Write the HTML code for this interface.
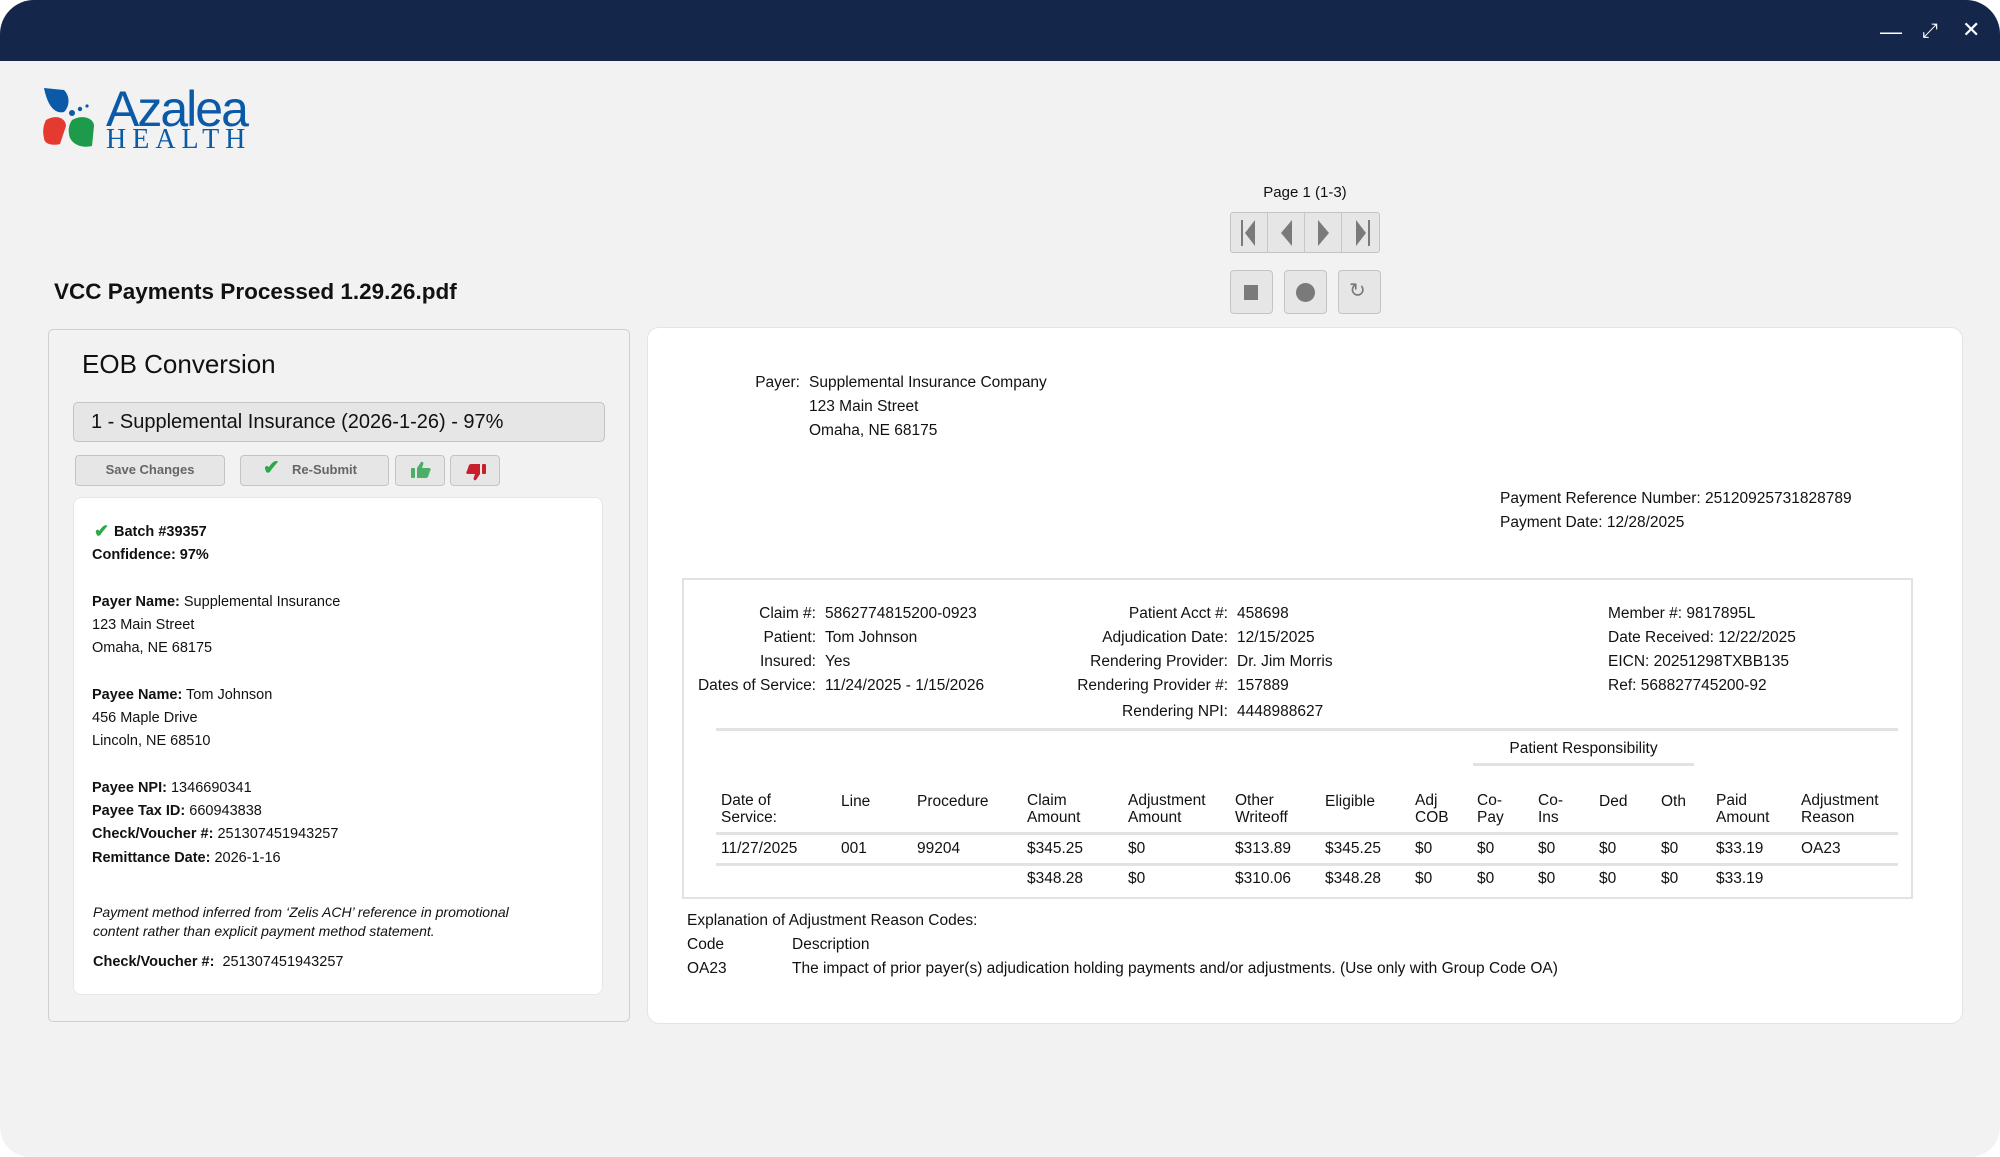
<!DOCTYPE html>
<html><head><meta charset="utf-8">
<style>
*{margin:0;padding:0;box-sizing:border-box}
body{width:2000px;height:1157px;background:#fff;position:relative;overflow:hidden;font-family:"Liberation Sans",sans-serif;color:#111}
.win{position:absolute;left:0;top:0;width:2000px;height:1157px;background:#f2f2f2;border-radius:34px 34px 30px 30px;overflow:hidden}
.bar{position:absolute;left:0;top:0;width:2000px;height:61px;background:#14264a}
.t{position:absolute;white-space:nowrap;line-height:20px}
.r{text-align:right}
.d{font-size:15.5px}
.l{font-size:14.5px}
b{font-weight:bold}
.btn{position:absolute;background:#e6e6e6;border:1.5px solid #c4c4c4;border-radius:4px}
.hl{position:absolute;height:3px;background:#e2e2e2}
</style></head><body>
<div class="win">
<div class="bar"></div>
<div class="t" style="left:1880px;top:22px;color:#fff;font-size:22px">&#8212;</div>
<div class="t" style="left:1922px;top:21px;color:#fff;font-size:20px">&#10530;</div>
<div class="t" style="left:1962px;top:20px;color:#fff;font-size:22px">&#10005;</div>

<!-- logo -->
<svg style="position:absolute;left:42px;top:86px" width="70" height="66" viewBox="0 0 70 66">
<path d="M2 2 L22 4 C28 10 28 20 22 26 C14 28 6 22 2 2Z" fill="#0a5aa8"/>
<path d="M4 34 C14 28 24 32 24 40 L18 58 C10 60 2 58 2 52 C0 44 2 38 4 34Z" fill="#e53a2f"/>
<path d="M30 34 C40 28 52 32 52 40 L50 60 C42 62 32 60 28 52 C26 46 26 40 30 34Z" fill="#1d9a4a"/>
<circle cx="30" cy="27" r="3" fill="#0a5aa8"/><circle cx="38" cy="23" r="2.2" fill="#0a5aa8"/><circle cx="45" cy="20" r="1.6" fill="#0a5aa8"/>
</svg>
<div class="t" style="left:106px;top:84px;font-size:50px;line-height:50px;color:#0a5aa8;letter-spacing:-2px">Azalea</div>
<div class="t" style="left:106px;top:126px;font-size:28px;line-height:28px;color:#0a5aa8;font-family:'Liberation Serif',serif;letter-spacing:6px">HEALTH</div>

<div class="t" style="left:54px;top:279px;font-size:22.5px;line-height:26px;font-weight:bold">VCC Payments Processed 1.29.26.pdf</div>

<!-- left panel -->
<div style="position:absolute;left:48px;top:329px;width:582px;height:693px;border:1.5px solid #cfcfcf;border-radius:5px;background:#f2f2f2"></div>
<div class="t" style="left:82px;top:350px;font-size:26px;line-height:28px">EOB Conversion</div>
<div class="btn" style="left:73px;top:402px;width:532px;height:40px;border-radius:5px"></div>
<div class="t" style="left:91px;top:410px;font-size:20px;line-height:24px">1 - Supplemental Insurance (2026-1-26) - 97%</div>
<div class="btn" style="left:75px;top:455px;width:150px;height:31px"></div>
<div class="t" style="left:75px;top:460px;width:150px;text-align:center;font-size:13px;color:#666;font-weight:bold">Save Changes</div>
<div class="btn" style="left:240px;top:455px;width:149px;height:31px"></div>
<div class="t" style="left:263px;top:458px;font-size:20px;color:#2aa84a;font-weight:bold">&#10004;</div>
<div class="t" style="left:292px;top:460px;font-size:13px;color:#666;font-weight:bold">Re-Submit</div>
<div class="btn" style="left:395px;top:455px;width:50px;height:31px"></div>
<svg style="position:absolute;left:411px;top:461px" width="20" height="18" viewBox="0 0 20 18"><g fill="#4caf68"><rect x="0" y="7" width="4" height="10" rx="1"/><path d="M6 7 L10 1 C12 0 13 2 12 4 L11 7 L18 7 C20 7 20 9 19 10 L17 16 C16 17 15 17 14 17 L6 17Z"/></g></svg>
<div class="btn" style="left:450px;top:455px;width:50px;height:31px"></div>
<svg style="position:absolute;left:466px;top:463px" width="20" height="18" viewBox="0 0 20 18"><g fill="#c8202a" transform="rotate(180 10 9)"><rect x="0" y="7" width="4" height="10" rx="1"/><path d="M6 7 L10 1 C12 0 13 2 12 4 L11 7 L18 7 C20 7 20 9 19 10 L17 16 C16 17 15 17 14 17 L6 17Z"/></g></svg>

<div style="position:absolute;left:73px;top:497px;width:530px;height:498px;background:#fff;border-radius:8px;border:1px solid #e6e6e6"></div>
<div class="t" style="left:94px;top:521px;font-size:18px;color:#2aa84a;font-weight:bold">&#10004;</div>
<div class="t l" style="left:114px;top:522px"><b>Batch #39357</b></div>
<div class="t l" style="left:92px;top:545px"><b>Confidence: 97%</b></div>
<div class="t l" style="left:92px;top:592px"><b>Payer Name:</b> Supplemental Insurance</div>
<div class="t l" style="left:92px;top:615px">123 Main Street</div>
<div class="t l" style="left:92px;top:638px">Omaha, NE 68175</div>
<div class="t l" style="left:92px;top:685px"><b>Payee Name:</b> Tom Johnson</div>
<div class="t l" style="left:92px;top:708px">456 Maple Drive</div>
<div class="t l" style="left:92px;top:731px">Lincoln, NE 68510</div>
<div class="t l" style="left:92px;top:778px"><b>Payee NPI:</b> 1346690341</div>
<div class="t l" style="left:92px;top:801px"><b>Payee Tax ID:</b> 660943838</div>
<div class="t l" style="left:92px;top:824px"><b>Check/Voucher #:</b> 251307451943257</div>
<div class="t l" style="left:92px;top:848px"><b>Remittance Date:</b> 2026-1-16</div>
<div class="t l" style="left:93px;top:903px;font-style:italic;font-size:14px;line-height:19px">Payment method inferred from ‘Zelis ACH’ reference in promotional<br>content rather than explicit payment method statement.</div>
<div class="t l" style="left:93px;top:952px"><b>Check/Voucher #:</b>&nbsp; 251307451943257</div>

<!-- pager -->
<div class="t" style="left:1230px;top:183px;width:150px;text-align:center;font-size:15px">Page 1 (1-3)</div>
<div class="btn" style="left:1230px;top:212px;width:150px;height:41px;border-radius:3px"></div>
<div style="position:absolute;left:1267px;top:213px;width:1px;height:39px;background:#c8c8c8"></div>
<div style="position:absolute;left:1304px;top:213px;width:1px;height:39px;background:#c8c8c8"></div>
<div style="position:absolute;left:1341px;top:213px;width:1px;height:39px;background:#c8c8c8"></div>
<svg style="position:absolute;left:1230px;top:212px" width="150" height="41">
<g fill="#7a7a7a"><rect x="11" y="8" width="2" height="26"/><polygon points="25,8 25,34 15,21"/>
<polygon points="62,8 62,34 51,21"/><polygon points="88,8 88,34 99,21"/>
<polygon points="126,8 126,34 136,21"/><rect x="138" y="8" width="2" height="26"/></g></svg>
<div class="btn" style="left:1230px;top:270px;width:43px;height:44px"></div>
<div style="position:absolute;left:1244px;top:285px;width:14px;height:15px;background:#7a7a7a"></div>
<div class="btn" style="left:1284px;top:270px;width:43px;height:44px"></div>
<div style="position:absolute;left:1296px;top:283px;width:19px;height:19px;border-radius:50%;background:#7a7a7a"></div>
<div class="btn" style="left:1338px;top:270px;width:43px;height:44px"></div>
<div class="t" style="left:1349px;top:281px;font-size:20px;color:#7a7a7a">&#8635;</div>

<!-- right panel -->
<div style="position:absolute;left:647px;top:327px;width:1316px;height:697px;background:#fff;border-radius:12px;border:1px solid #e4e4e4"></div>
<div class="t d r" style="left:700px;width:100px;top:373px">Payer:</div>
<div class="t d" style="left:809px;top:373px">Supplemental Insurance Company</div>
<div class="t d" style="left:809px;top:397px">123 Main Street</div>
<div class="t d" style="left:809px;top:421px">Omaha, NE 68175</div>
<div class="t d" style="left:1500px;top:489px">Payment Reference Number: 25120925731828789</div>
<div class="t d" style="left:1500px;top:513px">Payment Date: 12/28/2025</div>

<div style="position:absolute;left:682px;top:578px;width:1231px;height:321px;border:2px solid #e2e2e2"></div>
<div class="t d r" style="left:600px;width:216px;top:604px">Claim #:</div>
<div class="t d r" style="left:600px;width:216px;top:628px">Patient:</div>
<div class="t d r" style="left:600px;width:216px;top:652px">Insured:</div>
<div class="t d r" style="left:600px;width:216px;top:676px">Dates of Service:</div>
<div class="t d" style="left:825px;top:604px">5862774815200-0923</div>
<div class="t d" style="left:825px;top:628px">Tom Johnson</div>
<div class="t d" style="left:825px;top:652px">Yes</div>
<div class="t d" style="left:825px;top:676px">11/24/2025 - 1/15/2026</div>
<div class="t d r" style="left:1000px;width:228px;top:604px">Patient Acct #:</div>
<div class="t d r" style="left:1000px;width:228px;top:628px">Adjudication Date:</div>
<div class="t d r" style="left:1000px;width:228px;top:652px">Rendering Provider:</div>
<div class="t d r" style="left:1000px;width:228px;top:676px">Rendering Provider #:</div>
<div class="t d r" style="left:1000px;width:228px;top:702px">Rendering NPI:</div>
<div class="t d" style="left:1237px;top:604px">458698</div>
<div class="t d" style="left:1237px;top:628px">12/15/2025</div>
<div class="t d" style="left:1237px;top:652px">Dr. Jim Morris</div>
<div class="t d" style="left:1237px;top:676px">157889</div>
<div class="t d" style="left:1237px;top:702px">4448988627</div>
<div class="t d" style="left:1608px;top:604px">Member #: 9817895L</div>
<div class="t d" style="left:1608px;top:628px">Date Received: 12/22/2025</div>
<div class="t d" style="left:1608px;top:652px">EICN: 20251298TXBB135</div>
<div class="t d" style="left:1608px;top:676px">Ref: 568827745200-92</div>
<div class="hl" style="left:716px;top:728px;width:1182px"></div>
<div class="t d" style="left:1473px;width:221px;text-align:center;top:739px">Patient Responsibility</div>
<div class="hl" style="left:1473px;top:763px;width:221px"></div>

<div class="t d" style="left:721px;top:792px;line-height:17px">Date of<br>Service:</div>
<div class="t d" style="left:841px;top:792px">Line</div>
<div class="t d" style="left:917px;top:792px">Procedure</div>
<div class="t d" style="left:1027px;top:792px;line-height:17px">Claim<br>Amount</div>
<div class="t d" style="left:1128px;top:792px;line-height:17px">Adjustment<br>Amount</div>
<div class="t d" style="left:1235px;top:792px;line-height:17px">Other<br>Writeoff</div>
<div class="t d" style="left:1325px;top:792px">Eligible</div>
<div class="t d" style="left:1415px;top:792px;line-height:17px">Adj<br>COB</div>
<div class="t d" style="left:1477px;top:792px;line-height:17px">Co-<br>Pay</div>
<div class="t d" style="left:1538px;top:792px;line-height:17px">Co-<br>Ins</div>
<div class="t d" style="left:1599px;top:792px">Ded</div>
<div class="t d" style="left:1661px;top:792px">Oth</div>
<div class="t d" style="left:1716px;top:792px;line-height:17px">Paid<br>Amount</div>
<div class="t d" style="left:1801px;top:792px;line-height:17px">Adjustment<br>Reason</div>
<div class="hl" style="left:716px;top:832px;width:1182px"></div>
<div class="t d" style="left:721px;top:839px">11/27/2025</div>
<div class="t d" style="left:841px;top:839px">001</div>
<div class="t d" style="left:917px;top:839px">99204</div>
<div class="t d" style="left:1027px;top:839px">$345.25</div>
<div class="t d" style="left:1128px;top:839px">$0</div>
<div class="t d" style="left:1235px;top:839px">$313.89</div>
<div class="t d" style="left:1325px;top:839px">$345.25</div>
<div class="t d" style="left:1415px;top:839px">$0</div>
<div class="t d" style="left:1477px;top:839px">$0</div>
<div class="t d" style="left:1538px;top:839px">$0</div>
<div class="t d" style="left:1599px;top:839px">$0</div>
<div class="t d" style="left:1661px;top:839px">$0</div>
<div class="t d" style="left:1716px;top:839px">$33.19</div>
<div class="t d" style="left:1801px;top:839px">OA23</div>
<div class="hl" style="left:716px;top:863px;width:1182px"></div>
<div class="t d" style="left:1027px;top:869px">$348.28</div>
<div class="t d" style="left:1128px;top:869px">$0</div>
<div class="t d" style="left:1235px;top:869px">$310.06</div>
<div class="t d" style="left:1325px;top:869px">$348.28</div>
<div class="t d" style="left:1415px;top:869px">$0</div>
<div class="t d" style="left:1477px;top:869px">$0</div>
<div class="t d" style="left:1538px;top:869px">$0</div>
<div class="t d" style="left:1599px;top:869px">$0</div>
<div class="t d" style="left:1661px;top:869px">$0</div>
<div class="t d" style="left:1716px;top:869px">$33.19</div>

<div class="t d" style="left:687px;top:911px">Explanation of Adjustment Reason Codes:</div>
<div class="t d" style="left:687px;top:935px">Code</div>
<div class="t d" style="left:792px;top:935px">Description</div>
<div class="t d" style="left:687px;top:959px">OA23</div>
<div class="t d" style="left:792px;top:959px">The impact of prior payer(s) adjudication holding payments and/or adjustments. (Use only with Group Code OA)</div>
</div>
</body></html>
